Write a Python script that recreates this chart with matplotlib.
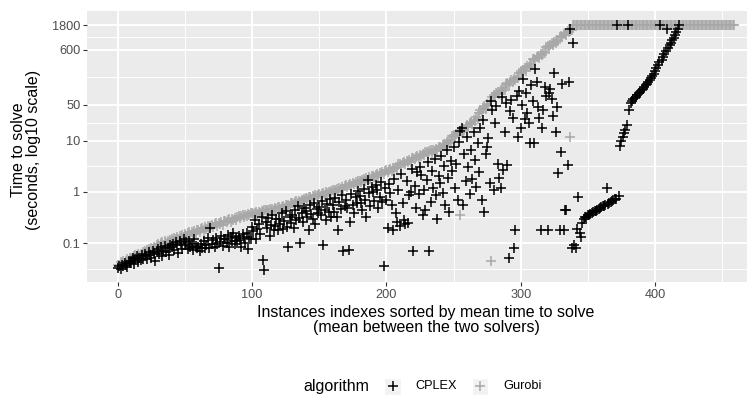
import numpy as np
import matplotlib
matplotlib.use("Agg")
import matplotlib.pyplot as plt
from matplotlib.patches import Rectangle
from matplotlib.lines import Line2D

plt.rcParams['font.family'] = ['Liberation Sans', 'DejaVu Sans']

# ---------------- data ----------------
x_ticks = [0, 100, 200, 300, 400]
y_ticks = [0.1, 1, 10, 50, 600, 1800]
y_tick_labels = ["0.1", "1", "10", "50", "600", "1800"]
algorithms = ["CPLEX", "Gurobi"]

gurobi_time = [
    0.038, 0.035, 0.042, 0.040, 0.045, 0.039, 0.044, 0.048, 0.043, 0.050,
    0.052, 0.047, 0.055, 0.058, 0.051, 0.060, 0.056, 0.062, 0.059, 0.066,
    0.070, 0.064, 0.074, 0.078, 0.069, 0.081, 0.076, 0.085, 0.080, 0.090,
    0.094, 0.088, 0.099, 0.104, 0.092, 0.108, 0.101, 0.112, 0.097, 0.115,
    0.120, 0.110, 0.125, 0.118, 0.131, 0.114, 0.136, 0.127, 0.141, 0.122,
    0.148, 0.139, 0.155, 0.162, 0.145, 0.168, 0.152, 0.171, 0.159, 0.176,
    0.180, 0.166, 0.187, 0.195, 0.174, 0.203, 0.190, 0.212, 0.198, 0.220,
    0.224, 0.208, 0.233, 0.242, 0.215, 0.251, 0.236, 0.259, 0.229, 0.266,
    0.270, 0.255, 0.281, 0.292, 0.262, 0.301, 0.286, 0.312, 0.277, 0.320,
    0.331, 0.305, 0.342, 0.352, 0.318, 0.361, 0.337, 0.370, 0.348, 0.378,
    0.380, 0.362, 0.392, 0.401, 0.371, 0.412, 0.389, 0.421, 0.398, 0.434,
    0.440, 0.415, 0.452, 0.463, 0.428, 0.472, 0.447, 0.485, 0.458, 0.497,
    0.501, 0.472, 0.515, 0.530, 0.489, 0.548, 0.522, 0.566, 0.538, 0.598,
    0.612, 0.570, 0.630, 0.651, 0.595, 0.672, 0.640, 0.695, 0.660, 0.731,
    0.760, 0.712, 0.781, 0.804, 0.740, 0.826, 0.790, 0.852, 0.812, 0.885,
    0.901, 0.846, 0.925, 0.951, 0.872, 0.978, 0.940, 1.01, 0.962, 1.04,
    1.07, 1.00, 1.10, 1.14, 1.04, 1.18, 1.12, 1.22, 1.16, 1.28,
    1.33, 1.24, 1.37, 1.42, 1.30, 1.48, 1.40, 1.54, 1.45, 1.61,
    1.66, 1.55, 1.71, 1.77, 1.62, 1.84, 1.74, 1.92, 1.80, 2.01,
    2.08, 1.95, 2.15, 2.23, 2.03, 2.31, 2.19, 2.42, 2.27, 2.55,
    2.63, 2.45, 2.72, 2.84, 2.58, 2.96, 2.80, 3.10, 2.91, 3.42,
    3.55, 3.30, 3.68, 3.82, 3.45, 3.97, 3.75, 4.15, 3.90, 4.52,
    4.68, 4.35, 4.85, 5.02, 4.55, 5.25, 4.95, 5.51, 5.15, 5.95,
    6.02, 5.62, 6.21, 6.45, 5.85, 6.70, 6.30, 6.98, 6.55, 7.35,
    7.55, 7.05, 8.10, 8.65, 7.80, 9.40, 8.90, 10.4, 9.80, 12.1,
    12.6, 11.5, 13.5, 14.4, 12.9, 0.35, 14.8, 17.0, 15.9, 18.8,
    20.0, 18.5, 21.8, 23.5, 21.0, 25.8, 24.0, 28.5, 26.5, 34.0,
    39.5, 36.0, 43.0, 46.5, 41.0, 51.0, 48.0, 58.0, 0.045, 72.0,
    79, 72, 84, 90, 80, 97, 92, 106, 99, 126,
    135, 122, 142, 150, 138, 162, 154, 176, 168, 210,
    224, 205, 240, 258, 232, 282, 268, 310, 295, 390,
    400, 372, 425, 455, 410, 498, 470, 545, 515, 660,
    708, 650, 750, 790, 720, 850, 810, 920, 870, 1060,
    1120, 1040, 1190, 1260, 1150, 1350, 1300, 12, 1420, 1800,
    1800, 1800, 1800, 1800, 1800, 1800, 1800, 1800, 1800, 1800,
    1800, 1800, 1800, 1800, 1800, 1800, 1800, 1800, 1800, 1800,
    1800, 1800, 1800, 1800, 1800, 1800, 1800, 1800, 1800, 1800,
    1800, 1800, 1800, 1800, 1800, 1800, 1800, 1800, 1800, 1800,
    1800, 1800, 1800, 1800, 1800, 1800, 1800, 1800, 1800, 1800,
    1800, 1800, 1800, 1800, 1800, 1800, 1800, 1800, 1800, 1800,
    1800, 1800, 1800, 1800, 1800, 1800, 1800, 1800, 1800, 1800,
    1800, 1800, 1800, 1800, 1800, 1800, 1800, 1800, 1800, 1800,
    1800, 1800, 1800, 1800, 1800, 1800, 1800, 1800, 1800, 1800,
    1800, 1800, 1800, 1800, 1800, 1800, 1800, 1800, 1800, 1800,
    1800, 1800, 1800, 1800, 1800, 1800, 1800, 1800, 1800, 1800,
    1800, 1800, 1800, 1800, 1800, 1800, 1800, 1800, 1800, 1800,
]

cplex_time = [
    0.033, 0.036, 0.031, 0.038, 0.035, 0.041, 0.037, 0.034, 0.045, 0.040,
    0.044, 0.050, 0.039, 0.048, 0.055, 0.042, 0.052, 0.046, 0.058, 0.049,
    0.061, 0.056, 0.048, 0.066, 0.059, 0.052, 0.070, 0.063, 0.045, 0.068,
    0.075, 0.062, 0.083, 0.055, 0.071, 0.088, 0.066, 0.079, 0.058, 0.092,
    0.085, 0.098, 0.072, 0.105, 0.090, 0.064, 0.112, 0.094, 0.078, 0.118,
    0.090, 0.105, 0.078, 0.112, 0.084, 0.098, 0.072, 0.118, 0.088, 0.080,
    0.082, 0.070, 0.095, 0.081, 0.108, 0.080, 0.092, 0.125, 0.079, 0.200,
    0.098, 0.115, 0.083, 0.128, 0.094, 0.032, 0.105, 0.135, 0.088, 0.118,
    0.120, 0.102, 0.142, 0.085, 0.130, 0.112, 0.155, 0.095, 0.125, 0.108,
    0.135, 0.115, 0.085, 0.148, 0.125, 0.100, 0.160, 0.075, 0.130, 0.118,
    0.21, 0.17, 0.28, 0.12, 0.19, 0.24, 0.15, 0.32, 0.047, 0.030,
    0.26, 0.20, 0.31, 0.14, 0.23, 0.35, 0.18, 0.22, 0.29, 0.18,
    0.30, 0.24, 0.38, 0.19, 0.27, 0.42, 0.21, 0.083, 0.33, 0.25,
    0.35, 0.20, 0.44, 0.28, 0.52, 0.31, 0.10, 0.39, 0.26, 0.48,
    0.42, 0.33, 0.18, 0.55, 0.37, 0.29, 0.61, 0.24, 0.46, 0.38,
    0.50, 0.36, 0.65, 0.090, 0.44, 0.28, 0.58, 0.41, 0.72, 0.33,
    0.55, 0.40, 0.75, 0.32, 0.18, 0.62, 0.46, 0.85, 0.070, 0.52,
    0.68, 0.48, 0.072, 0.26, 0.90, 0.55, 0.38, 0.78, 0.60, 1.05,
    0.82, 0.60, 0.45, 1.15, 0.70, 0.32, 1.7, 0.95, 0.52, 1.25,
    0.98, 0.66, 1.35, 1.1, 0.48, 0.80, 1.55, 0.62, 0.035, 1.20,
    0.70, 0.20, 1.4, 0.95, 0.55, 0.18, 1.8, 0.38, 0.26, 1.1,
    0.22, 2.2, 0.60, 0.28, 0.24, 1.6, 0.25, 0.85, 1.0, 2.8,
    0.070, 1.3, 0.48, 2.4, 0.90, 3.1, 2.1, 0.36, 1.1, 0.45,
    1.7, 3.8, 0.070, 0.62, 2.6, 1.2, 4.4, 0.85, 0.30, 2.0,
    1.5, 5.0, 0.95, 3.2, 0.55, 6.5, 1.9, 0.40, 4.0, 2.5,
    7.5, 1.2, 3.5, 0.70, 9.5, 15.6, 18, 0.55, 5.5, 1.6,
    12, 3.0, 0.90, 6.5, 1.8, 15, 4.2, 1.25, 9.0, 2.4,
    18, 0.70, 25, 0.40, 5.5, 7.5, 11, 1.5, 60, 40,
    1.1, 22, 48, 3.5, 1.9, 1.2, 70, 2.7, 15, 55,
    3.3, 0.050, 38, 63, 28, 0.080, 0.18, 75, 12, 95,
    18, 50, 160, 26, 85, 35, 22, 9.0, 120, 60,
    9.0, 250, 140, 45, 28, 0.18, 18, 40, 110, 75,
    0.18, 85, 100, 65, 30, 210, 15, 46, 2.3, 0.18,
    6.0, 130, 0.18, 0.45, 0.45, 3.3, 140, 1500, 0.080, 800,
    0.09, 0.08, 0.19, 0.80, 0.16, 0.13, 0.25,
    0.30, 0.32, 0.33, 0.35, 0.36, 0.37, 0.39, 0.40, 0.42, 0.43,
    0.45, 0.47, 0.48, 0.50, 0.52, 0.54, 0.56, 1.2, 0.58, 0.60,
    0.62, 0.65, 0.68, 0.71, 0.74, 1800, 0.82,
    8.0, 10, 12, 14, 16, 20, 1800, 40, 54, 60,
    64, 68, 72, 78, 84, 90, 97, 104, 112, 120,
    130, 140, 152, 165, 180, 200, 225, 260, 300, 340,
    1800, 380, 420, 480, 560, 1500, 650, 740, 820, 900,
    1000, 1150, 1300, 1500, 1800,
    None, None, None, None, None, None, None, None, None, None,
    None, None, None, None, None, None, None, None, None, None,
    None, None, None, None, None, None, None, None, None, None,
    None, None, None, None, None, None, None, None, None, None,
    None,
]

# ---------------- figure ----------------
W, H = 747, 398
fig = plt.figure(figsize=(W / 100, H / 100), dpi=100)

g = np.array(gurobi_time, dtype=float)
c = np.array(cplex_time, dtype=float)
idx = np.arange(len(g))

# panel (right part of the original panel is cropped by the image edge)
ax = fig.add_axes([87 / W, 1 - 282 / H, (765 - 87) / W, (282 - 11) / H])
ax.set_facecolor('#EBEBEB')
for s in ax.spines.values():
    s.set_visible(False)

ax.set_yscale('log')
ax.set_xlim(-22.95, 481.95)
ax.set_ylim(10 ** -1.76, 10 ** 3.53)

# grid: minor then major (white, ggplot style)
x_minor = [50, 150, 250, 350, 450]
y_minor_log = [-1.5, -0.5, 0.5, 1.349, 2.239, 3.017]
for xm in x_minor:
    ax.axvline(xm, color='white', lw=0.7, zorder=0.5)
for ym in y_minor_log:
    ax.axhline(10 ** ym, color='white', lw=0.7, zorder=0.5)
for xt in x_ticks:
    ax.axvline(xt, color='white', lw=1.4, zorder=0.6)
for yt in y_ticks:
    ax.axhline(yt, color='white', lw=1.4, zorder=0.6)

ax.plot(idx, g, linestyle='none', marker='+', color='#a8a8a8',
        ms=6.5, mew=1.1, zorder=2)
ax.plot(idx, c, linestyle='none', marker='+', color='black',
        ms=6.5, mew=1.1, zorder=3)

ax.set_xticks(x_ticks)
ax.set_xticklabels([str(t) for t in x_ticks])
ax.set_yticks(y_ticks)
ax.set_yticklabels(y_tick_labels)
ax.yaxis.set_minor_locator(matplotlib.ticker.NullLocator())
ax.tick_params(axis='both', which='major', length=3, width=0.8,
               color='#333333', labelcolor='#4D4D4D', labelsize=9.2, pad=1.8)

# axis titles
fig.text(26 / W, 1 - 150 / H, "Time to solve\n(seconds, log10 scale)",
         rotation=90, ha='center', va='center', multialignment='center',
         fontsize=11.5, linespacing=1.0, color='black')
fig.text(426 / W, 1 - 320 / H,
         "Instances indexes sorted by mean time to solve\n(mean between the two solvers)",
         ha='center', va='center', multialignment='center',
         fontsize=11.5, linespacing=1.0, color='black')

# legend (bottom, horizontal, ggplot style)
ly = 1 - 386 / H
fig.text(303 / W, ly, "algorithm", ha='left', va='center', fontsize=11.5)
key_pos = [393, 480]
key_colors = ['black', '#a8a8a8']
text_pos = [415, 503]
for kx, kc, tx, lab in zip(key_pos, key_colors, text_pos, algorithms):
    box = 17
    fig.patches.append(Rectangle(((kx - box / 2) / W, ly - (box / 2) / H),
                                 box / W, box / H, transform=fig.transFigure,
                                 facecolor='#F2F2F2', edgecolor='white', lw=1))
    fig.lines.append(Line2D([kx / W], [ly], transform=fig.transFigure,
                            marker='+', color=kc, ms=6.5, mew=1.1,
                            linestyle='none'))
    fig.text(tx / W, ly, lab, ha='left', va='center', fontsize=9.2)

fig.savefig('out.png', dpi=100)
